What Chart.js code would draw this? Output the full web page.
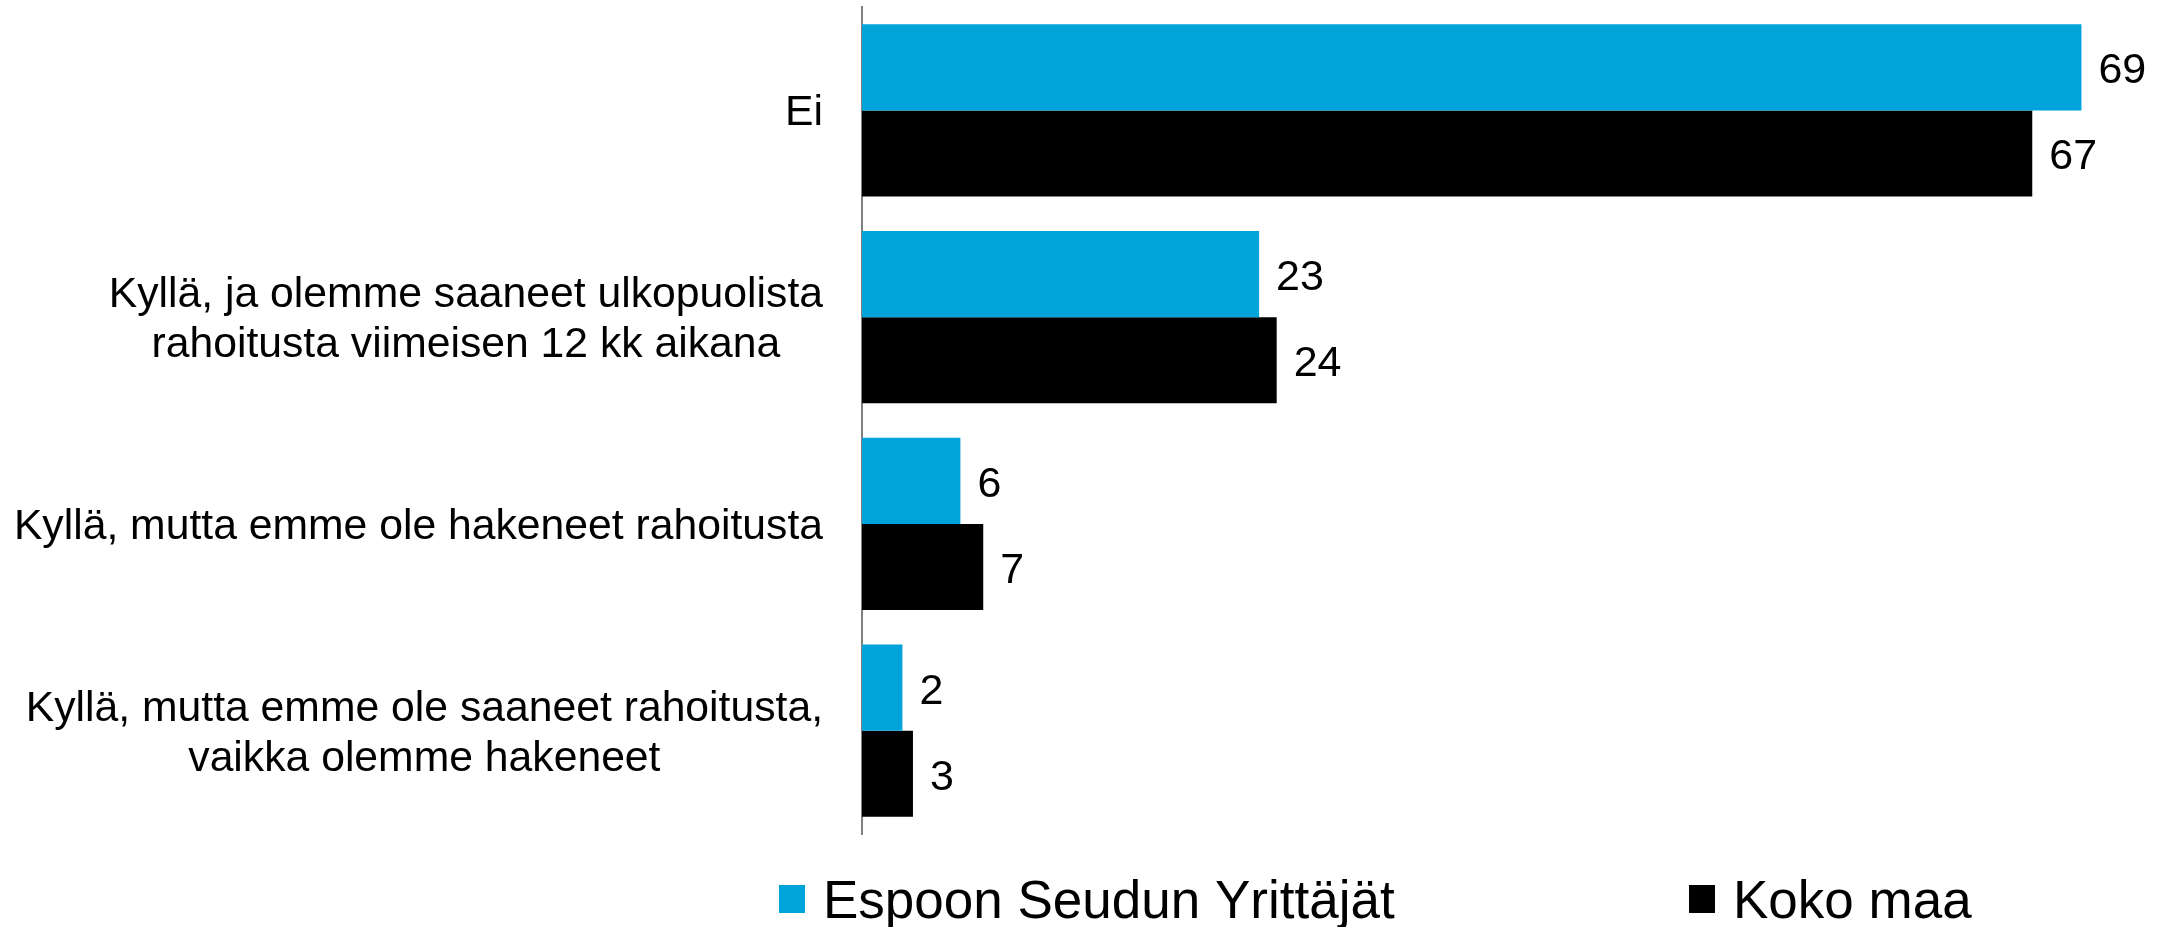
<!DOCTYPE html>
<html>
<head>
<meta charset="utf-8">
<script src="https://cdn.jsdelivr.net/npm/chart.js@4.4.1/dist/chart.umd.min.js"></script>
<style>
  body { margin: 0; background: #fff; }
  canvas { display: block; }
</style>
</head>
<body>
<canvas id="chart" width="2159" height="927"></canvas>
<script>
// categories (multi-line labels) and the two series
const categories = [
  ['Ei'],
  ['Kyllä, ja olemme saaneet ulkopuolista', 'rahoitusta viimeisen 12 kk aikana'],
  ['Kyllä, mutta emme ole hakeneet rahoitusta'],
  ['Kyllä, mutta emme ole saaneet rahoitusta,', 'vaikka olemme hakeneet']
];
const seriesNames = ['Espoon Seudun Yrittäjät', 'Koko maa'];
const espooValues = [69.4, 22.6, 5.6, 2.3];
const kokoMaaValues = [66.6, 23.6, 6.9, 2.9];
const seriesColors = ['#00A3DA', '#000000'];

const FONT = "'Liberation Sans', Arial, sans-serif";

// category labels: each block right aligned, lines centred inside the block
const categoryLabels = {
  id: 'categoryLabels',
  afterDraw(chart) {
    const ctx = chart.ctx;
    const yScale = chart.scales.y;
    const rightEdge = chart.chartArea.left - 39;
    const lineHeight = 50;
    ctx.save();
    ctx.font = '42.7px ' + FONT;
    ctx.fillStyle = '#000';
    ctx.textAlign = 'center';
    ctx.textBaseline = 'alphabetic';
    categories.forEach((lines, i) => {
      const y = yScale.getPixelForValue(i);
      const widest = Math.max(...lines.map(l => ctx.measureText(l).width));
      const cx = rightEdge - widest / 2;
      lines.forEach((line, j) => {
        const ly = y + (j - (lines.length - 1) / 2) * lineHeight + 15;
        ctx.fillText(line, cx, ly);
      });
    });
    ctx.restore();
  }
};

// value labels at the end of each bar
const valueLabels = {
  id: 'valueLabels',
  afterDatasetsDraw(chart) {
    const ctx = chart.ctx;
    ctx.save();
    ctx.font = '43px ' + FONT;
    ctx.fillStyle = '#000';
    ctx.textAlign = 'left';
    ctx.textBaseline = 'alphabetic';
    chart.data.datasets.forEach((ds, di) => {
      chart.getDatasetMeta(di).data.forEach((bar, i) => {
        ctx.fillText(String(Math.round(ds.data[i])), bar.x + 17, bar.y + 16);
      });
    });
    ctx.restore();
  }
};

// legend drawn under the plot, spaced like the original
const legendBoxes = {
  id: 'legendBoxes',
  afterDraw(chart) {
    const ctx = chart.ctx;
    const starts = [779, 1689];
    ctx.save();
    ctx.font = '53px ' + FONT;
    ctx.textBaseline = 'alphabetic';
    ctx.textAlign = 'left';
    chart.data.datasets.forEach((ds, i) => {
      ctx.fillStyle = ds.backgroundColor;
      ctx.fillRect(starts[i], 885, 26, 28);
      ctx.fillStyle = '#000';
      ctx.fillText(ds.label, starts[i] + 44, 918);
    });
    ctx.restore();
  }
};

new Chart(document.getElementById('chart'), {
  type: 'bar',
  data: {
    labels: categories,
    datasets: [
      { label: seriesNames[0], data: espooValues, backgroundColor: seriesColors[0] },
      { label: seriesNames[1], data: kokoMaaValues, backgroundColor: seriesColors[1] }
    ]
  },
  options: {
    indexAxis: 'y',
    responsive: false,
    animation: false,
    devicePixelRatio: 1,
    datasets: {
      bar: { categoryPercentage: 0.832, barPercentage: 1.0 }
    },
    layout: { padding: { left: 0, right: 67, top: 7, bottom: 93 } },
    scales: {
      x: { display: false, min: 0, max: 70 },
      y: {
        z: 1,
        grid: { display: false },
        border: { display: true, color: '#808080', width: 2 },
        ticks: { display: false },
        afterFit(scale) { scale.width = 862; }
      }
    },
    plugins: {
      legend: { display: false },
      tooltip: { enabled: false }
    }
  },
  plugins: [categoryLabels, valueLabels, legendBoxes]
});
</script>
</body>
</html>
